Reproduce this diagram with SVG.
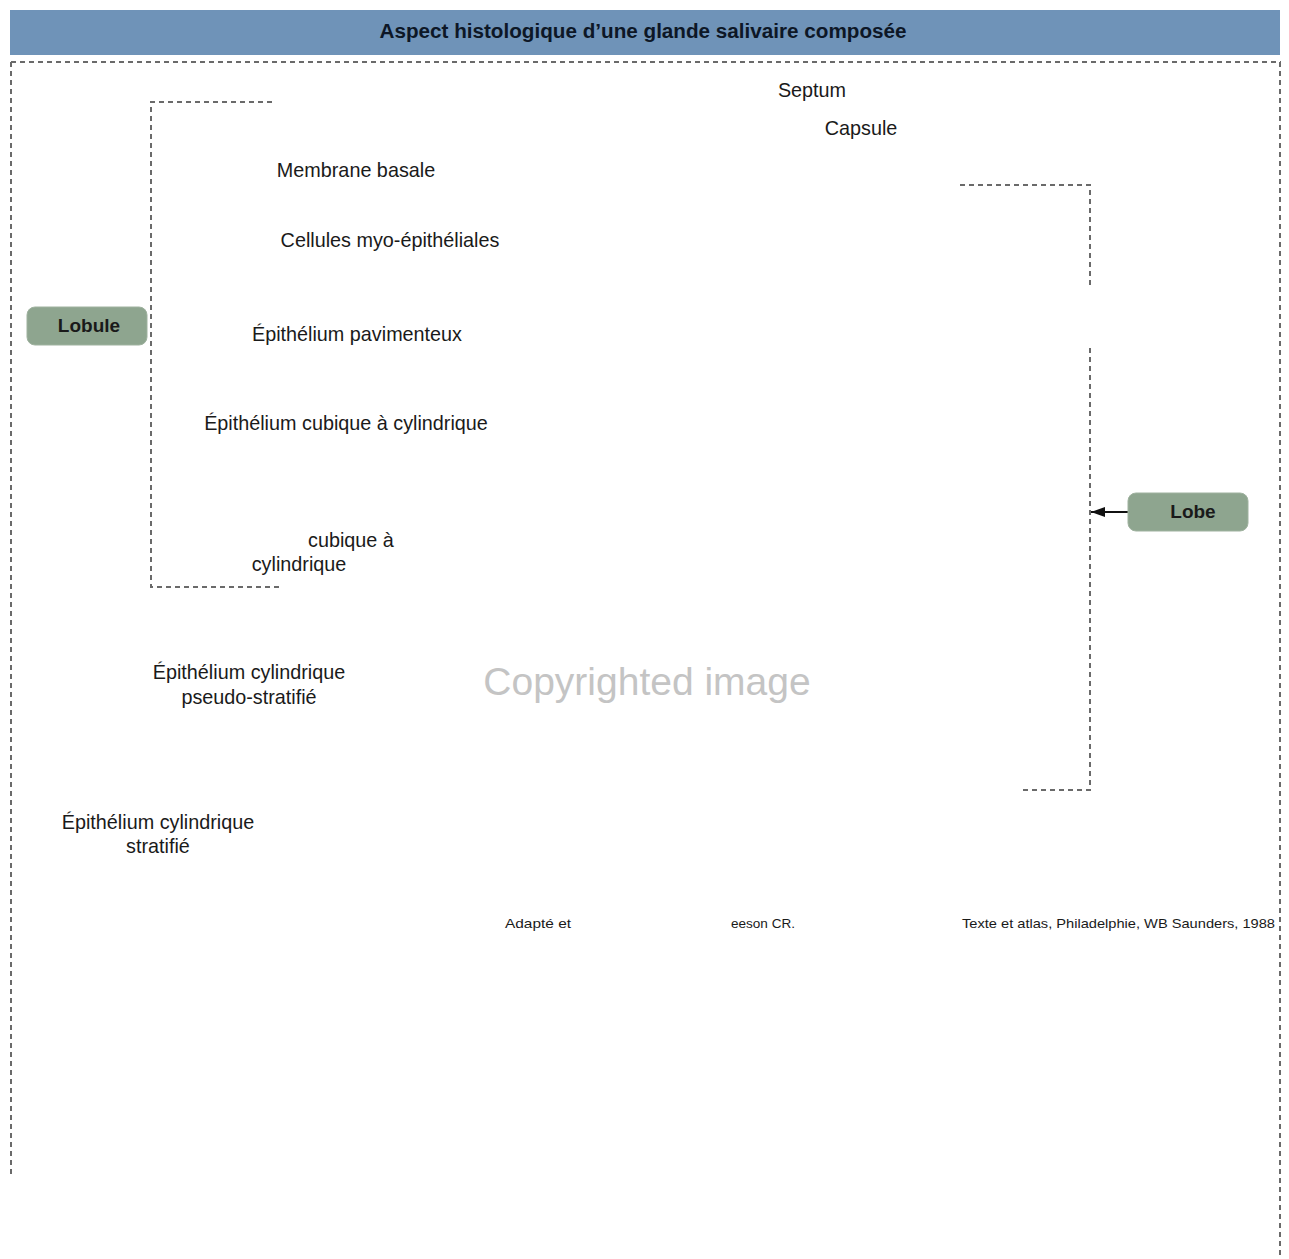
<svg xmlns="http://www.w3.org/2000/svg" width="1289" height="1259" viewBox="0 0 1289 1259">
<style>
.lbl{font-family:"Liberation Sans",Arial,sans-serif;font-size:19.8px;fill:#1a1a1a}
.ftr{font-family:"Liberation Sans",Arial,sans-serif;font-size:13px;fill:#1a1a1a}
.dash{fill:none;stroke:#6a6a6a;stroke-width:2;stroke-dasharray:5 4}
.node rect{fill:#8ea58f;stroke:#9fb29f;stroke-width:1}
.node text{font-family:"Liberation Sans",Arial,sans-serif;font-size:19px;font-weight:bold;fill:#1a1a1a;text-anchor:middle}
</style>
<defs>
<marker id="ah" viewBox="0 0 14 10" refX="14" refY="5" markerWidth="14" markerHeight="10" orient="auto" markerUnits="userSpaceOnUse">
<path d="M0,0 L14,5 L0,10 z" fill="#111"/>
</marker>
</defs>
<rect width="1289" height="1259" fill="#ffffff"/>
<g id="title">
<rect x="10" y="10" width="1270" height="45" fill="#6f93b8"/>
<text x="643" y="38" font-family="Liberation Sans,Arial,sans-serif" font-size="20" font-weight="bold" fill="#0d1726" text-anchor="middle" textLength="527" lengthAdjust="spacingAndGlyphs">Aspect histologique d’une glande salivaire composée</text>
</g>
<g id="frame">
<path class="dash" d="M11,62 H1281"/>
<path class="dash" d="M11,62 V1178"/>
<path class="dash" d="M1280,62 V1255"/>
</g>
<g id="connectors">
<path class="dash" d="M272,102 H151 V587 H280"/>
<path class="dash" d="M960,185 H1090 V285"/>
<path class="dash" d="M1090,348 V790 H1022"/>
<path d="M1128,512 H1091" stroke="#111" stroke-width="2" fill="none" marker-end="url(#ah)"/>
</g>
<g id="lobule" class="node">
<rect x="27" y="307" width="120" height="38" rx="8"/>
<text x="89" y="332">Lobule</text>
</g>
<g id="lobe" class="node">
<rect x="1128" y="493" width="120" height="38" rx="8"/>
<text x="1193" y="518">Lobe</text>
</g>
<g id="labels">
<text class="lbl" x="812" y="97" text-anchor="middle">Septum</text>
<text class="lbl" x="861" y="135" text-anchor="middle">Capsule</text>
<text class="lbl" x="356" y="177" text-anchor="middle">Membrane basale</text>
<text class="lbl" x="390" y="247" text-anchor="middle">Cellules myo-épithéliales</text>
<text class="lbl" x="357" y="341" text-anchor="middle">Épithélium pavimenteux</text>
<text class="lbl" x="346" y="430" text-anchor="middle">Épithélium cubique à cylindrique</text>
<text class="lbl" x="308" y="547">cubique à</text>
<text class="lbl" x="299" y="571" text-anchor="middle">cylindrique</text>
<text class="lbl" x="249" y="679" text-anchor="middle">Épithélium cylindrique</text>
<text class="lbl" x="249" y="704" text-anchor="middle">pseudo-stratifié</text>
<text class="lbl" x="158" y="829" text-anchor="middle">Épithélium cylindrique</text>
<text class="lbl" x="158" y="853" text-anchor="middle">stratifié</text>
<text x="647" y="695" font-family="Liberation Sans,Arial,sans-serif" font-size="39" fill="#c4c4c4" text-anchor="middle">Copyrighted image</text>
<text class="ftr" x="505" y="928" textLength="66" lengthAdjust="spacingAndGlyphs">Adapté et</text>
<text class="ftr" x="731" y="928" textLength="64" lengthAdjust="spacingAndGlyphs">eeson CR.</text>
<text class="ftr" x="962" y="928" textLength="313" lengthAdjust="spacingAndGlyphs">Texte et atlas, Philadelphie, WB Saunders, 1988</text>
</g>
</svg>
